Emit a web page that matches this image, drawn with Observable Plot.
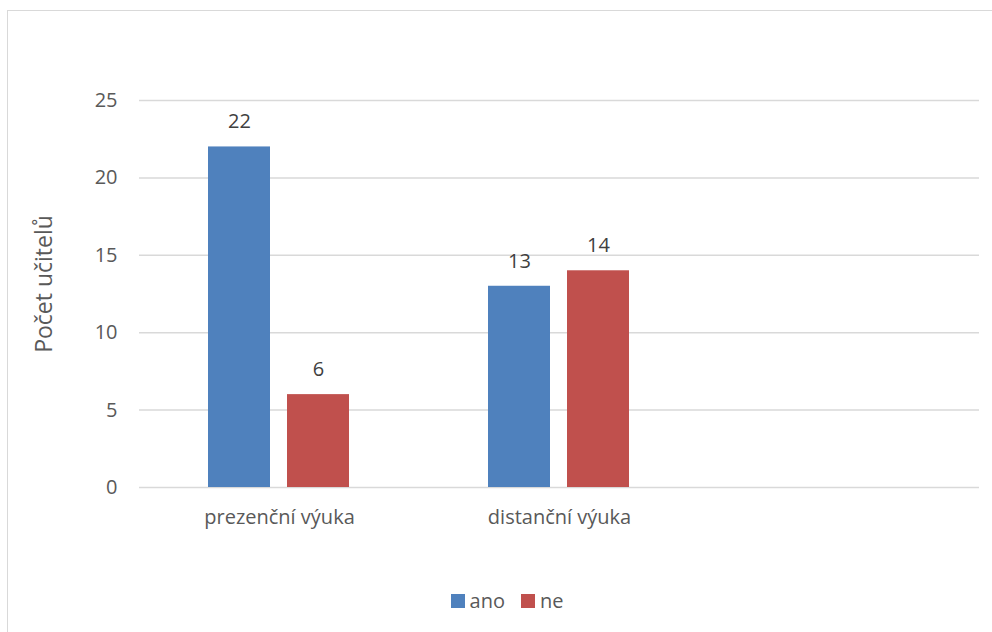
<!DOCTYPE html>
<html>
<head>
<meta charset="utf-8">
<script src="https://cdn.jsdelivr.net/npm/d3@7"></script>
<script src="https://cdn.jsdelivr.net/npm/@observablehq/plot@0.6"></script>
<style>
  html, body { margin: 0; padding: 0; background: #fff; overflow: hidden; width: 992px; height: 632px; }
  #frame { position: absolute; left: 7px; top: 10px; width: 1100px; height: 800px; border: 1px solid #d9d9d9; box-sizing: border-box; }
  #chart { position: absolute; left: 0; top: 0; }
  #legend { position: absolute; left: 0; top: 587px; width: 992px; display: flex; justify-content: center; gap: 16px; font-family: "Open Sans", sans-serif; font-size: 20px; color: #595959; padding-left: 22px; box-sizing: border-box; }
  .item { display: flex; align-items: center; gap: 5px; }
  .sw { width: 14px; height: 14px; display: inline-block; }
</style>
</head>
<body>
<div id="frame"></div>
<div id="chart"></div>
<div id="legend"></div>
<script>
const categories = ["prezenční výuka", "distanční výuka", " "];
const series = ["ano", "ne"];
const anoValues = [22, 13];
const neValues = [6, 14];
const colors = ["#4F81BD", "#C0504D"];
const yTicks = [0, 5, 10, 15, 20, 25];
const yLabel = "Počet učitelů";

const data = [];
[anoValues, neValues].forEach((vals, si) => {
  vals.forEach((v, ci) => data.push({category: categories[ci], series: series[si], value: v}));
});
const gridData = categories.flatMap(c => yTicks.map(t => ({category: c, tick: t})));

const font = "'Open Sans', sans-serif";

const chart = Plot.plot({
  width: 992,
  height: 560,
  marginLeft: 138,
  marginRight: 12,
  marginTop: 100,
  marginBottom: 73,
  style: {fontFamily: font, fontSize: "20px", color: "#595959", background: "transparent"},
  fx: {domain: categories, padding: 0, label: null, tickSize: 0, tickPadding: 22, axis: "bottom"},
  x: {domain: series, paddingInner: 0.2125, paddingOuter: 0.86, axis: null},
  y: {domain: [0, 25], ticks: yTicks, tickSize: 0, tickPadding: 22, label: null},
  color: {domain: series, range: colors},
  marks: [
    Plot.ruleY(gridData, {fx: "category", y: "tick", stroke: "#d9d9d9", strokeWidth: 1.5}),
    Plot.barY(data, {fx: "category", x: "series", y: "value", fill: "series"}),
    Plot.text(data, {fx: "category", x: "series", y: "value", text: d => String(d.value), dy: -25, fill: "#404040", fontSize: 20}),
    Plot.text([{category: categories[0], label: yLabel}], {fx: "category", text: "label", frameAnchor: "left", textAnchor: "middle", rotate: -90, dx: -95, dy: -10, fontSize: 23, fill: "#595959"})
  ]
});
document.getElementById("chart").appendChild(chart);

const legend = document.getElementById("legend");
series.forEach((s, i) => {
  const item = document.createElement("div");
  item.className = "item";
  const sw = document.createElement("span");
  sw.className = "sw";
  sw.style.background = colors[i];
  const t = document.createElement("span");
  t.textContent = s;
  item.appendChild(sw);
  item.appendChild(t);
  legend.appendChild(item);
});
</script>
</body>
</html>
